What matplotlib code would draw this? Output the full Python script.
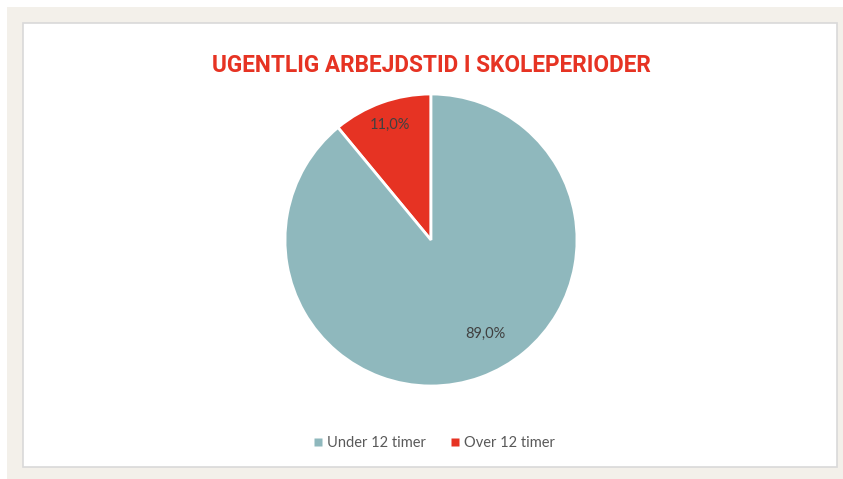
import numpy as np
import matplotlib.pyplot as plt
from matplotlib.patches import Rectangle
from matplotlib.lines import Line2D

categories = ["Under 12 timer", "Over 12 timer"]
values = [89.0, 11.0]
colors = ["#8fb8bd", "#e63323"]
title = "UGENTLIG ARBEJDSTID I SKOLEPERIODER"

W, H = 843, 479
fig = plt.figure(figsize=(W / 100, H / 100), dpi=100)
fig.patch.set_facecolor("white")

# outer beige frame and inner white panel
fig.add_artist(Rectangle((7 / W, 0), 1 - 7 / W, 1 - 7 / H, transform=fig.transFigure,
                         facecolor="#f3f0ea", edgecolor="none", zorder=0))
fig.add_artist(Rectangle((23 / W, 1 - 467 / H), (837 - 23) / W, (467 - 23) / H,
                         transform=fig.transFigure, facecolor="white",
                         edgecolor="#d9d9d9", linewidth=1.2, zorder=1))

cx, cy, r = 431, 240, 146
ax = fig.add_axes([(cx - r) / W, 1 - (cy + r) / H, 2 * r / W, 2 * r / H])
ax.set_zorder(2)
# draw Over first so it goes counter-clockwise from the top
order = [1, 0]
wedges, texts, autotexts = ax.pie([values[i] for i in order],
                                  colors=[colors[i] for i in order],
                                  startangle=90, counterclock=True,
                                  autopct=lambda p: f"{p:.1f}%".replace(".", ","),
                                  pctdistance=0.84,
                                  wedgeprops=dict(edgecolor="white", linewidth=2),
                                  textprops=dict(color="#404040", fontsize=10.5,
                                                 family="Lato"))
ax.set_xlim(-1, 1)
ax.set_ylim(-1, 1)
ax.set_aspect("equal")
# reposition the big slice label like the reference
ang = np.deg2rad(-60)
autotexts[1].set_position((0.74 * np.cos(ang), 0.74 * np.sin(ang)))

fig.text(cx / W, 1 - 66 / H, title, ha="center", va="center", color="#e63323",
         fontsize=16.3, fontweight="bold", family="Roboto", zorder=3)

handles = [Line2D([], [], marker="s", linestyle="none", markersize=6,
                  markerfacecolor=colors[i], markeredgecolor="none") for i in range(2)]
leg = fig.legend(handles, categories, loc="center", bbox_to_anchor=(434 / W, 1 - 443 / H),
                 ncol=2, frameon=False, handlelength=0.6, handletextpad=0.3,
                 columnspacing=1.7, prop=dict(family="Lato", size=10.5))
for t in leg.get_texts():
    t.set_color("#595959")

fig.savefig("out.png", dpi=100, facecolor=fig.get_facecolor())
